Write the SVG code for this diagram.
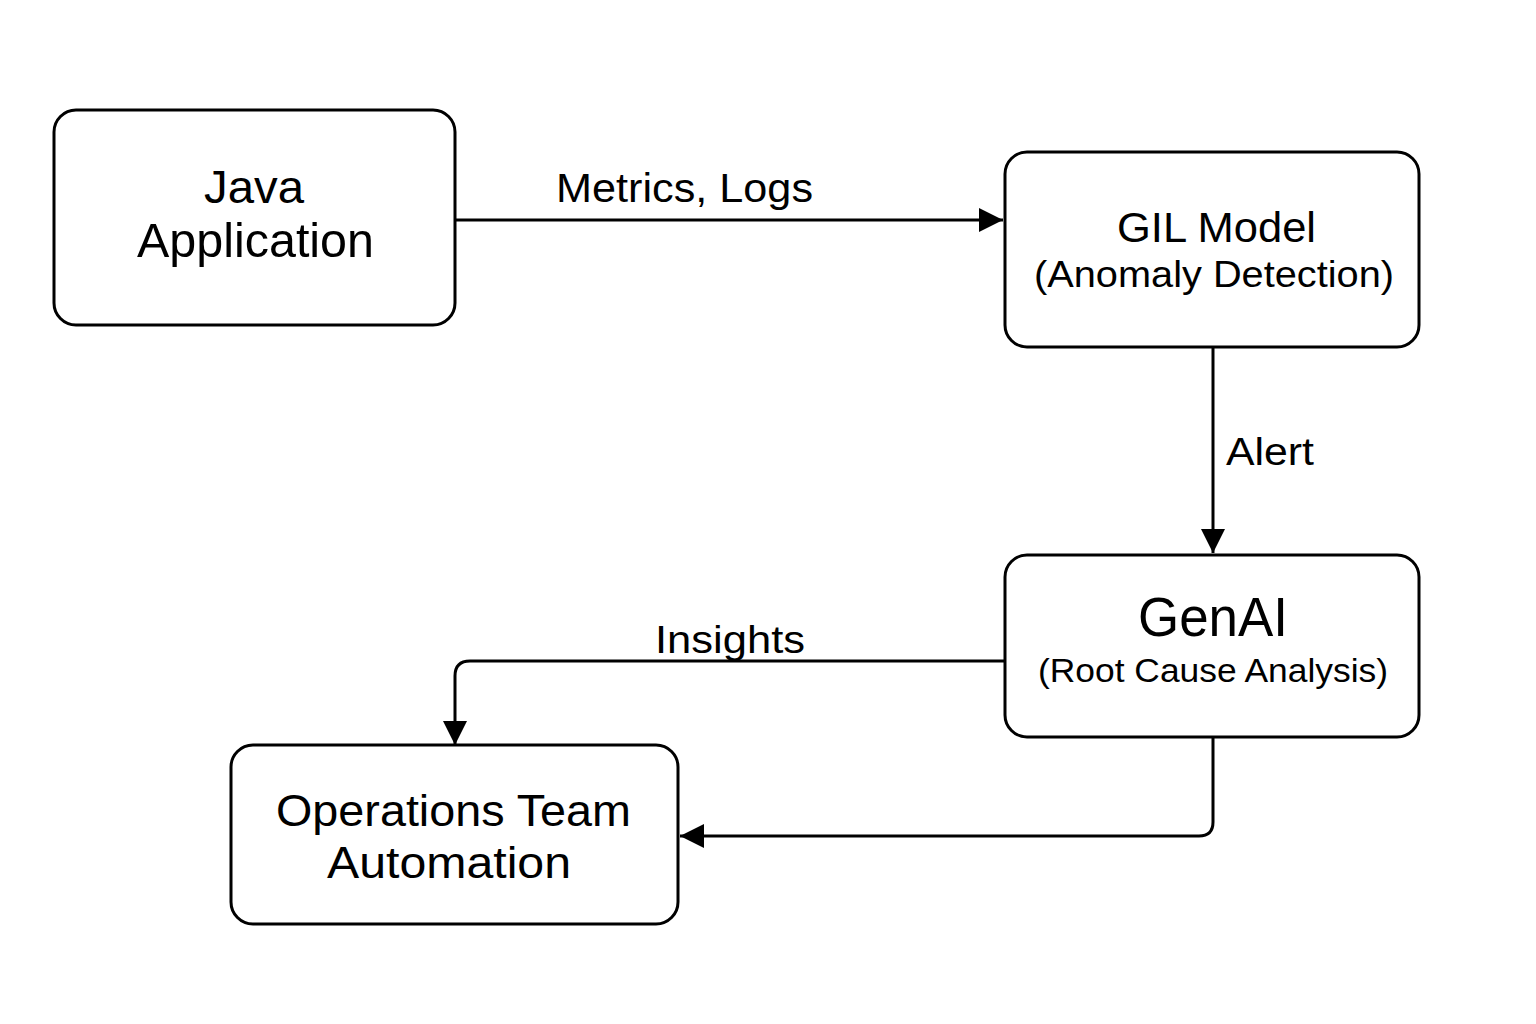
<svg xmlns="http://www.w3.org/2000/svg" width="1536" height="1024" viewBox="0 0 1536 1024">
<style>
.box{fill:#fff;stroke:#000;stroke-width:3}
.t{font-family:"Liberation Sans",Arial,sans-serif;fill:#000;text-anchor:middle}
.c{fill:none;stroke:#000;stroke-width:3}
</style>
<defs>
<marker id="a" viewBox="0 0 24 24" refX="24" refY="12" markerWidth="24" markerHeight="24" orient="auto" markerUnits="userSpaceOnUse">
<path d="M0,0 L24,12 L0,24 Z" fill="#000"/>
</marker>
</defs>
<rect width="1536" height="1024" fill="#fff"/>
<g id="connectors">
<path class="c" d="M455,220 H1003" marker-end="url(#a)"/>
<path class="c" d="M1213,347 V553" marker-end="url(#a)"/>
<path class="c" d="M1005,661 H470 Q455,661 455,676 V745" marker-end="url(#a)"/>
<path class="c" d="M1213,737 V822 Q1213,836 1199,836 H680" marker-end="url(#a)"/>
<text class="t" x="684.5" y="202" font-size="41" textLength="257" lengthAdjust="spacingAndGlyphs">Metrics, Logs</text>
<text class="t" x="1270" y="465" font-size="39" textLength="88" lengthAdjust="spacingAndGlyphs">Alert</text>
<text class="t" x="730" y="653" font-size="39" textLength="150" lengthAdjust="spacingAndGlyphs">Insights</text>
</g>
<g id="java">
<rect class="box" x="54" y="110" width="401" height="215" rx="22"/>
<text class="t" x="254" y="203" font-size="47" textLength="100" lengthAdjust="spacingAndGlyphs">Java</text>
<text class="t" x="255.5" y="257" font-size="48" textLength="237" lengthAdjust="spacingAndGlyphs">Application</text>
</g>
<g id="gil">
<rect class="box" x="1005" y="152" width="414" height="195" rx="22"/>
<text class="t" x="1216.5" y="242" font-size="42" textLength="199" lengthAdjust="spacingAndGlyphs">GIL Model</text>
<text class="t" x="1214" y="287" font-size="36" textLength="360" lengthAdjust="spacingAndGlyphs">(Anomaly Detection)</text>
</g>
<g id="genai">
<rect class="box" x="1005" y="555" width="414" height="182" rx="22"/>
<text class="t" x="1213" y="636" font-size="55" textLength="150" lengthAdjust="spacingAndGlyphs">GenAI</text>
<text class="t" x="1213" y="682" font-size="33" textLength="350" lengthAdjust="spacingAndGlyphs">(Root Cause Analysis)</text>
</g>
<g id="ops">
<rect class="box" x="231" y="745" width="447" height="179" rx="22"/>
<text class="t" x="453.5" y="826" font-size="45" textLength="355" lengthAdjust="spacingAndGlyphs">Operations Team</text>
<text class="t" x="449" y="878" font-size="45" textLength="244" lengthAdjust="spacingAndGlyphs">Automation</text>
</g>
</svg>
